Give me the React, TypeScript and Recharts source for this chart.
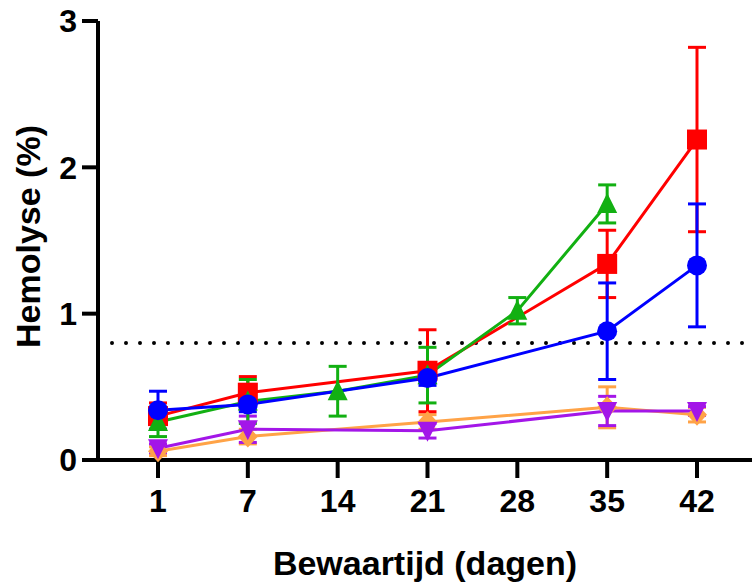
import { ComposedChart, Line, XAxis, YAxis, ErrorBar, ReferenceLine } from 'recharts';

// storage time (days) on the x axis
const days = ['1', '7', '14', '21', '28', '35', '42'];

// hemolysis (%) per group, null = not measured on that day
const redValues = [0.30, 0.46, null, 0.61, null, 1.34, 2.19];
const redErrors = [0.09, 0.11, null, 0.28, null, 0.23, 0.63];

const greenValues = [0.26, 0.40, 0.47, 0.58, 1.02, 1.75, null];
const greenErrors = [0.10, 0.15, 0.17, 0.19, 0.09, 0.13, null];

const blueValues = [0.34, 0.38, null, 0.56, null, 0.88, 1.33];
const blueErrors = [0.13, 0.05, null, 0.05, null, 0.33, 0.42];

const orangeValues = [0.06, 0.16, null, 0.26, null, 0.36, 0.31];
const orangeErrors = [0.03, 0.05, null, 0.05, null, 0.14, 0.05];

const purpleValues = [0.08, 0.21, null, 0.20, null, 0.335, 0.335];
const purpleErrors = [0.03, 0.09, null, 0.05, null, 0.10, 0.03];

const yTicks = [0, 1, 2, 3];
const threshold = 0.8;

const RED = '#ff0000';
const GREEN = '#12b012';
const BLUE = '#0000ff';
const ORANGE = '#ffa347';
const PURPLE = '#a316e8';

const data = days.map((day, i) => ({
  day,
  red: redValues[i],
  redErr: redErrors[i],
  green: greenValues[i],
  greenErr: greenErrors[i],
  blue: blueValues[i],
  blueErr: blueErrors[i],
  orange: orangeValues[i],
  orangeErr: orangeErrors[i],
  purple: purpleValues[i],
  purpleErr: purpleErrors[i],
}));

const FONT = '"Liberation Sans", Arial, sans-serif';

type Shape = 'square' | 'circle' | 'up' | 'down' | 'diamond';

const marker = (shape: Shape, color: string) => (props: any) => {
  const { cx, cy, index, value } = props;
  const k = `dot-${shape}-${index}`;
  if (cx == null || cy == null || value == null || isNaN(cy)) return <g key={k} />;
  if (shape === 'square') {
    return <rect key={k} x={cx - 10} y={cy - 10} width={20} height={20} fill={color} />;
  }
  if (shape === 'circle') {
    return <circle key={k} cx={cx} cy={cy} r={10} fill={color} />;
  }
  if (shape === 'up') {
    return <polygon key={k} points={`${cx},${cy - 11} ${cx + 10},${cy + 9} ${cx - 10},${cy + 9}`} fill={color} />;
  }
  if (shape === 'down') {
    return <polygon key={k} points={`${cx - 10},${cy - 9} ${cx + 10},${cy - 9} ${cx},${cy + 11}`} fill={color} />;
  }
  return <polygon key={k} points={`${cx},${cy - 11} ${cx + 10},${cy} ${cx},${cy + 11} ${cx - 10},${cy}`} fill={color} />;
};

const YTitle = (props: any) => {
  const { viewBox } = props;
  const x = viewBox.x + 40;
  const y = viewBox.y + viewBox.height / 2 - 4;
  return (
    <text x={x} y={y} transform={`rotate(-90 ${x} ${y})`} textAnchor="middle"
      fontFamily={FONT} fontWeight="bold" fontSize={34} fill="#000">
      Hemolyse (%)
    </text>
  );
};

const XTitle = (props: any) => {
  const { viewBox } = props;
  const x = viewBox.x + viewBox.width / 2;
  const y = viewBox.y + 115;
  return (
    <text x={x} y={y} textAnchor="middle" fontFamily={FONT} fontWeight="bold" fontSize={34} fill="#000">
      Bewaartijd (dagen)
    </text>
  );
};

const tickStyle = { fontFamily: FONT, fontWeight: 'bold', fontSize: 32, fill: '#000' };
const axisStroke = { stroke: '#000', strokeWidth: 4 };

const series = [
  { key: 'orange', color: ORANGE, shape: 'diamond' as Shape },
  { key: 'purple', color: PURPLE, shape: 'down' as Shape },
  { key: 'red', color: RED, shape: 'square' as Shape },
  { key: 'green', color: GREEN, shape: 'up' as Shape },
  { key: 'blue', color: BLUE, shape: 'circle' as Shape },
];

export default function App() {
  return (
    <div style={{ position: 'absolute', left: 0, top: 0, background: '#fff' }}>
      <ComposedChart width={753} height={587} data={data} margin={{ top: 21, right: 1, left: 0, bottom: 0 }}>
        <XAxis
          dataKey="day"
          type="category"
          interval={0}
          padding={{ left: 60, right: 55 }}
          height={127}
          tickSize={18}
          tickMargin={11}
          tick={tickStyle}
          axisLine={axisStroke}
          tickLine={axisStroke}
          label={{ content: XTitle, value: 'Bewaartijd (dagen)' }}
        />
        <YAxis
          type="number"
          domain={[0, 3]}
          ticks={yTicks}
          width={98}
          tickSize={16}
          tickMargin={5}
          tick={tickStyle}
          axisLine={axisStroke}
          tickLine={axisStroke}
          label={{ content: YTitle, value: 'Hemolyse (%)' }}
        />
        <ReferenceLine y={threshold} stroke="#000" strokeWidth={4} strokeLinecap="round" strokeDasharray="0 14" />
        {series.map((s) => (
          <Line
            key={s.key}
            dataKey={s.key}
            stroke={s.color}
            strokeWidth={3}
            connectNulls
            isAnimationActive={false}
            dot={marker(s.shape, s.color)}
            activeDot={false}
          >
            <ErrorBar dataKey={`${s.key}Err`} direction="y" width={9} strokeWidth={3} stroke={s.color} isAnimationActive={false} />
          </Line>
        ))}
      </ComposedChart>
    </div>
  );
}
